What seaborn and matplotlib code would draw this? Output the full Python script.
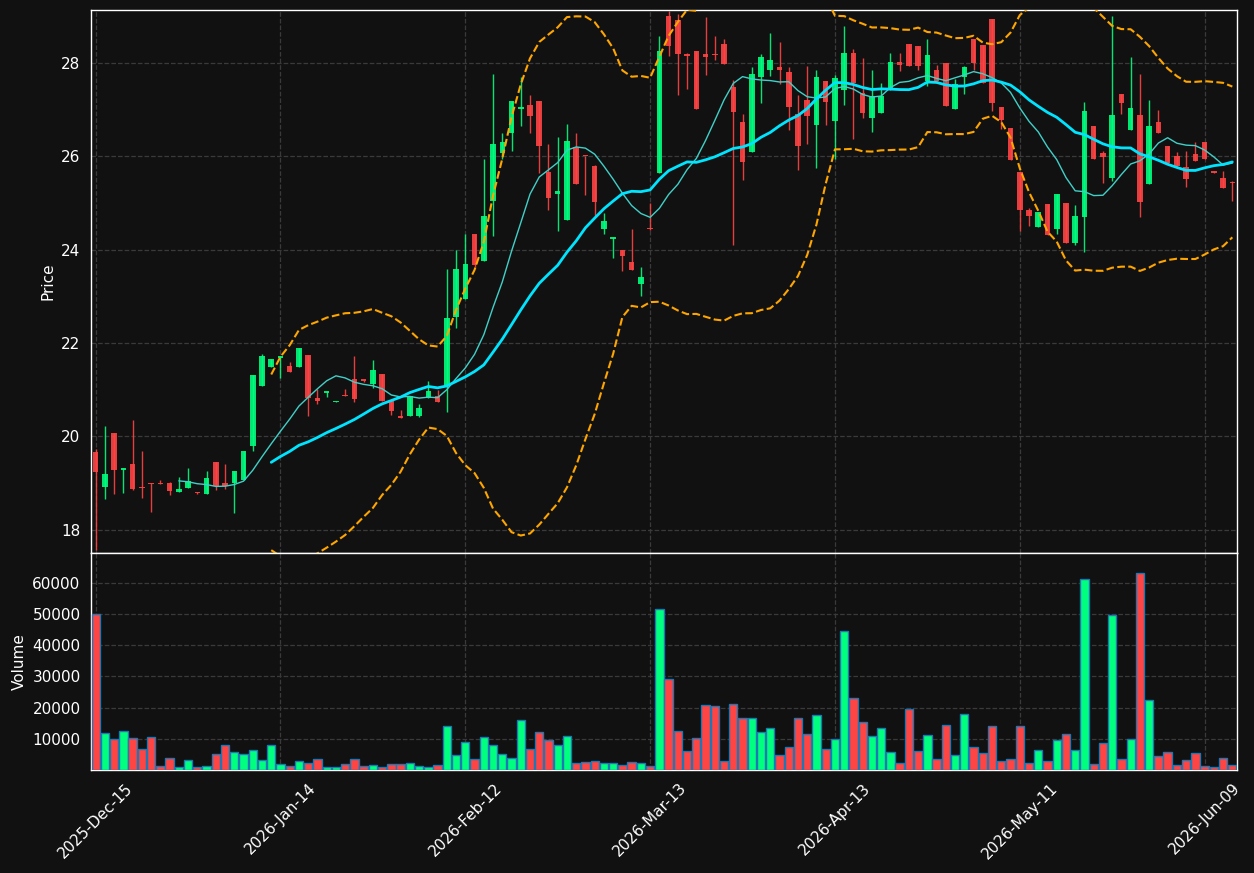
import matplotlib
matplotlib.use("Agg")
import matplotlib.pyplot as plt
import numpy as np
import pandas as pd
import seaborn as sns


TICK_LABELS = ["2025-Dec-15", "2026-Jan-14", "2026-Feb-12", "2026-Mar-13",
               "2026-Apr-13", "2026-May-11", "2026-Jun-09"]
TICK_STEP = 20

OPENS = [19.66, 18.91, 20.06, 19.28, 19.40, 18.90, 18.99, 18.99, 18.99, 18.81,
         18.89, 18.79, 18.77, 19.44, 18.99, 19.01, 19.07, 19.79, 21.07, 21.48,
         21.68, 21.50, 21.49, 21.75, 20.81, 20.93, 20.73, 20.88, 21.22, 21.20,
         21.11, 21.34, 20.75, 20.42, 20.43, 20.43, 20.82, 20.87, 21.08, 22.56,
         22.93, 24.34, 23.75, 25.03, 26.06, 26.49, 27.00, 27.10, 27.18, 25.66,
         25.19, 24.64, 26.19, 26.01, 25.79, 24.43, 24.23, 24.00, 23.73, 23.27,
         24.44, 25.63, 29.01, 28.92, 28.16, 28.26, 28.18, 28.19, 28.41, 27.49,
         26.74, 26.08, 27.69, 27.84, 27.90, 27.81, 26.90, 27.21, 26.66, 27.62,
         26.75, 27.41, 28.21, 27.35, 26.81, 26.92, 27.41, 28.02, 28.41, 28.37,
         27.61, 27.84, 27.99, 27.02, 27.69, 28.51, 28.39, 28.93, 27.06, 26.61,
         25.66, 24.85, 24.49, 24.98, 24.43, 25.00, 24.15, 24.69, 26.65, 26.06,
         25.54, 27.34, 26.55, 26.89, 25.41, 26.74, 26.22, 26.01, 25.77, 26.04,
         26.31, 25.69, 25.54, 25.43]
HIGHS = [19.72, 20.21, 20.08, 19.33, 20.35, 19.69, 18.99, 19.07, 19.02, 19.12,
         19.32, 18.80, 19.25, 19.44, 19.40, 19.25, 19.69, 21.31, 21.77, 21.65,
         21.73, 21.59, 21.89, 21.75, 21.01, 20.96, 20.75, 21.01, 21.71, 21.21,
         21.63, 21.34, 20.75, 20.56, 20.86, 20.69, 21.19, 20.99, 23.58, 23.99,
         24.34, 24.34, 25.93, 27.75, 26.49, 27.18, 27.70, 27.31, 27.18, 26.25,
         26.40, 26.69, 26.49, 26.01, 25.81, 24.79, 24.26, 24.00, 24.43, 23.62,
         24.99, 28.57, 29.10, 29.05, 28.21, 28.26, 28.98, 28.57, 28.51, 27.63,
         26.90, 27.91, 28.19, 28.64, 28.45, 27.91, 27.31, 27.94, 27.84, 27.62,
         27.74, 28.79, 28.30, 28.10, 27.84, 27.56, 28.21, 28.21, 28.41, 28.37,
         28.51, 27.95, 27.99, 27.65, 27.93, 28.51, 28.39, 28.93, 27.06, 26.61,
         25.66, 24.89, 24.81, 24.98, 25.19, 25.00, 24.96, 27.16, 26.65, 26.12,
         29.01, 27.34, 28.13, 27.75, 27.20, 26.99, 26.22, 26.08, 26.12, 26.31,
         26.31, 25.69, 25.69, 25.47]
LOWS = [17.57, 18.66, 18.77, 18.78, 18.84, 18.68, 18.37, 18.97, 18.75, 18.81,
        18.89, 18.77, 18.77, 18.84, 18.87, 18.36, 19.07, 19.68, 21.07, 21.48,
        21.25, 21.38, 21.49, 20.43, 20.69, 20.84, 20.73, 20.86, 20.74, 21.17,
        21.04, 20.75, 20.45, 20.40, 20.43, 20.41, 20.82, 20.73, 20.51, 22.33,
        22.93, 23.63, 23.75, 24.28, 25.93, 26.10, 26.64, 26.49, 25.65, 24.84,
        24.39, 24.64, 25.41, 25.16, 24.72, 24.33, 23.81, 23.54, 23.57, 23.01,
        24.42, 25.63, 28.15, 27.31, 27.43, 27.00, 27.74, 28.07, 27.97, 24.10,
        25.49, 26.08, 27.13, 27.71, 27.54, 26.55, 25.70, 26.27, 25.74, 26.66,
        25.93, 27.10, 26.37, 26.81, 26.51, 26.92, 27.41, 27.82, 27.93, 27.84,
        27.50, 27.60, 27.07, 27.02, 27.34, 27.84, 27.56, 26.96, 26.58, 25.92,
        24.39, 24.50, 24.49, 24.32, 24.33, 24.15, 24.10, 23.94, 25.93, 25.43,
        25.47, 26.90, 26.55, 24.69, 25.41, 26.49, 25.86, 25.78, 25.34, 25.89,
        25.95, 25.65, 25.31, 25.05]
CLOSES = [19.23, 19.20, 19.28, 19.33, 18.88, 18.89, 18.97, 18.98, 18.82, 18.87,
          19.04, 18.78, 19.10, 18.93, 18.93, 19.25, 19.69, 21.31, 21.72, 21.65,
          21.73, 21.38, 21.89, 20.81, 20.75, 20.96, 20.75, 20.86, 20.80, 21.19,
          21.43, 20.75, 20.54, 20.40, 20.86, 20.60, 20.96, 20.73, 22.53, 23.58,
          23.69, 23.67, 24.72, 26.26, 26.31, 27.18, 27.05, 26.87, 26.21, 25.11,
          25.25, 26.33, 25.41, 26.00, 25.01, 24.61, 24.26, 23.87, 23.57, 23.41,
          24.43, 28.26, 28.37, 28.19, 28.15, 27.00, 28.12, 28.16, 27.97, 26.94,
          25.88, 27.77, 28.13, 28.07, 27.85, 27.06, 26.21, 26.85, 27.70, 27.17,
          27.68, 28.21, 27.57, 26.92, 27.29, 27.28, 28.02, 27.96, 27.93, 27.93,
          28.16, 27.60, 27.07, 27.55, 27.90, 27.99, 27.56, 27.14, 26.77, 25.92,
          24.84, 24.72, 24.81, 24.32, 25.19, 24.15, 24.72, 26.96, 25.93, 25.99,
          26.89, 27.13, 27.04, 25.01, 26.65, 26.49, 25.86, 25.78, 25.52, 25.89,
          25.95, 25.65, 25.31, 25.42]
VOLUMES = [50000, 11900, 10000, 12600, 10400, 6800, 10600, 1300, 3900, 900,
           3300, 900, 1300, 5200, 8100, 5800, 5200, 6500, 3300, 8100,
           2000, 1300, 2900, 2300, 3600, 900, 900, 2000, 3600, 1300,
           1700, 900, 2000, 2000, 2300, 1300, 1000, 1700, 14200, 4900,
           9000, 3600, 10600, 8100, 5200, 3900, 16100, 6800, 12300, 9700,
           8100, 11000, 2300, 2600, 2900, 2300, 2300, 1700, 2600, 2300,
           1300, 51600, 29300, 12600, 6200, 10300, 20900, 20600, 2900, 21200,
           16700, 16700, 12300, 13500, 4900, 7400, 16700, 11600, 17700, 6800,
           10000, 44700, 23200, 15500, 11000, 13500, 5800, 2300, 19600, 6200,
           11300, 3600, 14500, 4900, 18000, 7400, 5500, 14200, 2900, 3600,
           14200, 2300, 6500, 2900, 9700, 11600, 6500, 61200, 2000, 8700,
           49800, 3600, 10000, 63300, 22500, 4600, 5800, 1700, 3300, 5500,
           1300, 1000, 3900, 1700]

UP_COLOR = "#00ff7f"
DOWN_COLOR = "#ff4444"
BG = "#111111"


def build_frame():
    df = pd.DataFrame({"open": OPENS, "high": HIGHS, "low": LOWS,
                       "close": CLOSES, "volume": VOLUMES})
    df["idx"] = np.arange(len(df))
    df["ma10"] = df["close"].rolling(10).mean()
    df["ma20"] = df["close"].rolling(20).mean()
    std20 = df["close"].rolling(20).std()
    df["upper"] = df["ma20"] + 2 * std20
    df["lower"] = df["ma20"] - 2 * std20
    df["color"] = np.where(df["close"] >= df["open"], UP_COLOR, DOWN_COLOR)
    return df


def style_axis(ax):
    ax.set_facecolor(BG)
    for spine in ax.spines.values():
        spine.set_color("white")
        spine.set_linewidth(1.0)
    ax.tick_params(colors="white", labelsize=11, length=4, width=1)
    ax.grid(True, linestyle="--", color="#3a3a3a", linewidth=0.9)
    ax.set_axisbelow(True)


def main():
    sns.set_theme(style="dark")
    plt.rcParams["font.family"] = ["DejaVu Sans"]

    df = build_frame()
    n = len(df)

    fig = plt.figure(figsize=(12.54, 8.73), dpi=100, facecolor=BG)
    gs = fig.add_gridspec(2, 1, height_ratios=[543, 217], hspace=0,
                          left=0.0726, right=0.9864, top=0.9885, bottom=0.118)
    ax = fig.add_subplot(gs[0])
    axv = fig.add_subplot(gs[1], sharex=ax)
    style_axis(ax)
    style_axis(axv)

    # candles
    body_low = np.minimum(df["open"], df["close"])
    body_h = np.maximum((df["close"] - df["open"]).abs(), 0.03)
    ax.vlines(df["idx"], df["low"], df["high"], colors=df["color"],
              linewidth=1.0, alpha=0.9, zorder=2)
    ax.bar(df["idx"], body_h, bottom=body_low, width=0.6,
           color=df["color"], alpha=0.9, linewidth=0, zorder=3)

    # moving averages and bands
    sns.lineplot(data=df, x="idx", y="ma10", ax=ax, color="#40d0c8",
                 linewidth=1.0, zorder=4)
    sns.lineplot(data=df, x="idx", y="ma20", ax=ax, color="#00e5ff",
                 linewidth=2.0, zorder=5)
    for col in ["upper", "lower"]:
        sns.lineplot(data=df, x="idx", y=col, ax=ax, color="orange",
                     linewidth=1.5, linestyle="--", zorder=4)

    ax.set_ylim(17.5, 29.13)
    ax.set_yticks([18, 20, 22, 24, 26, 28])
    ax.set_ylabel("Price", color="white", fontsize=11)
    ax.set_xlabel("")
    ax.tick_params(axis="x", labelbottom=False, length=0)

    # volume
    axv.bar(df["idx"], df["volume"], width=0.9, color=df["color"],
            edgecolor="#1f77b4", linewidth=1.0, zorder=3)
    axv.set_ylim(0, df["volume"].max() * 1.1)
    axv.set_yticks([10000, 20000, 30000, 40000, 50000, 60000])
    axv.set_ylabel("Volume", color="white", fontsize=11)

    ticks = np.arange(0, n, TICK_STEP)
    axv.set_xticks(ticks)
    axv.set_xticklabels(TICK_LABELS, rotation=45, ha="center")
    axv.set_xlim(-0.5, n - 0.5)
    axv.set_xlabel("")

    fig.savefig("out.png", dpi=100, facecolor=BG)


if __name__ == "__main__":
    main()
